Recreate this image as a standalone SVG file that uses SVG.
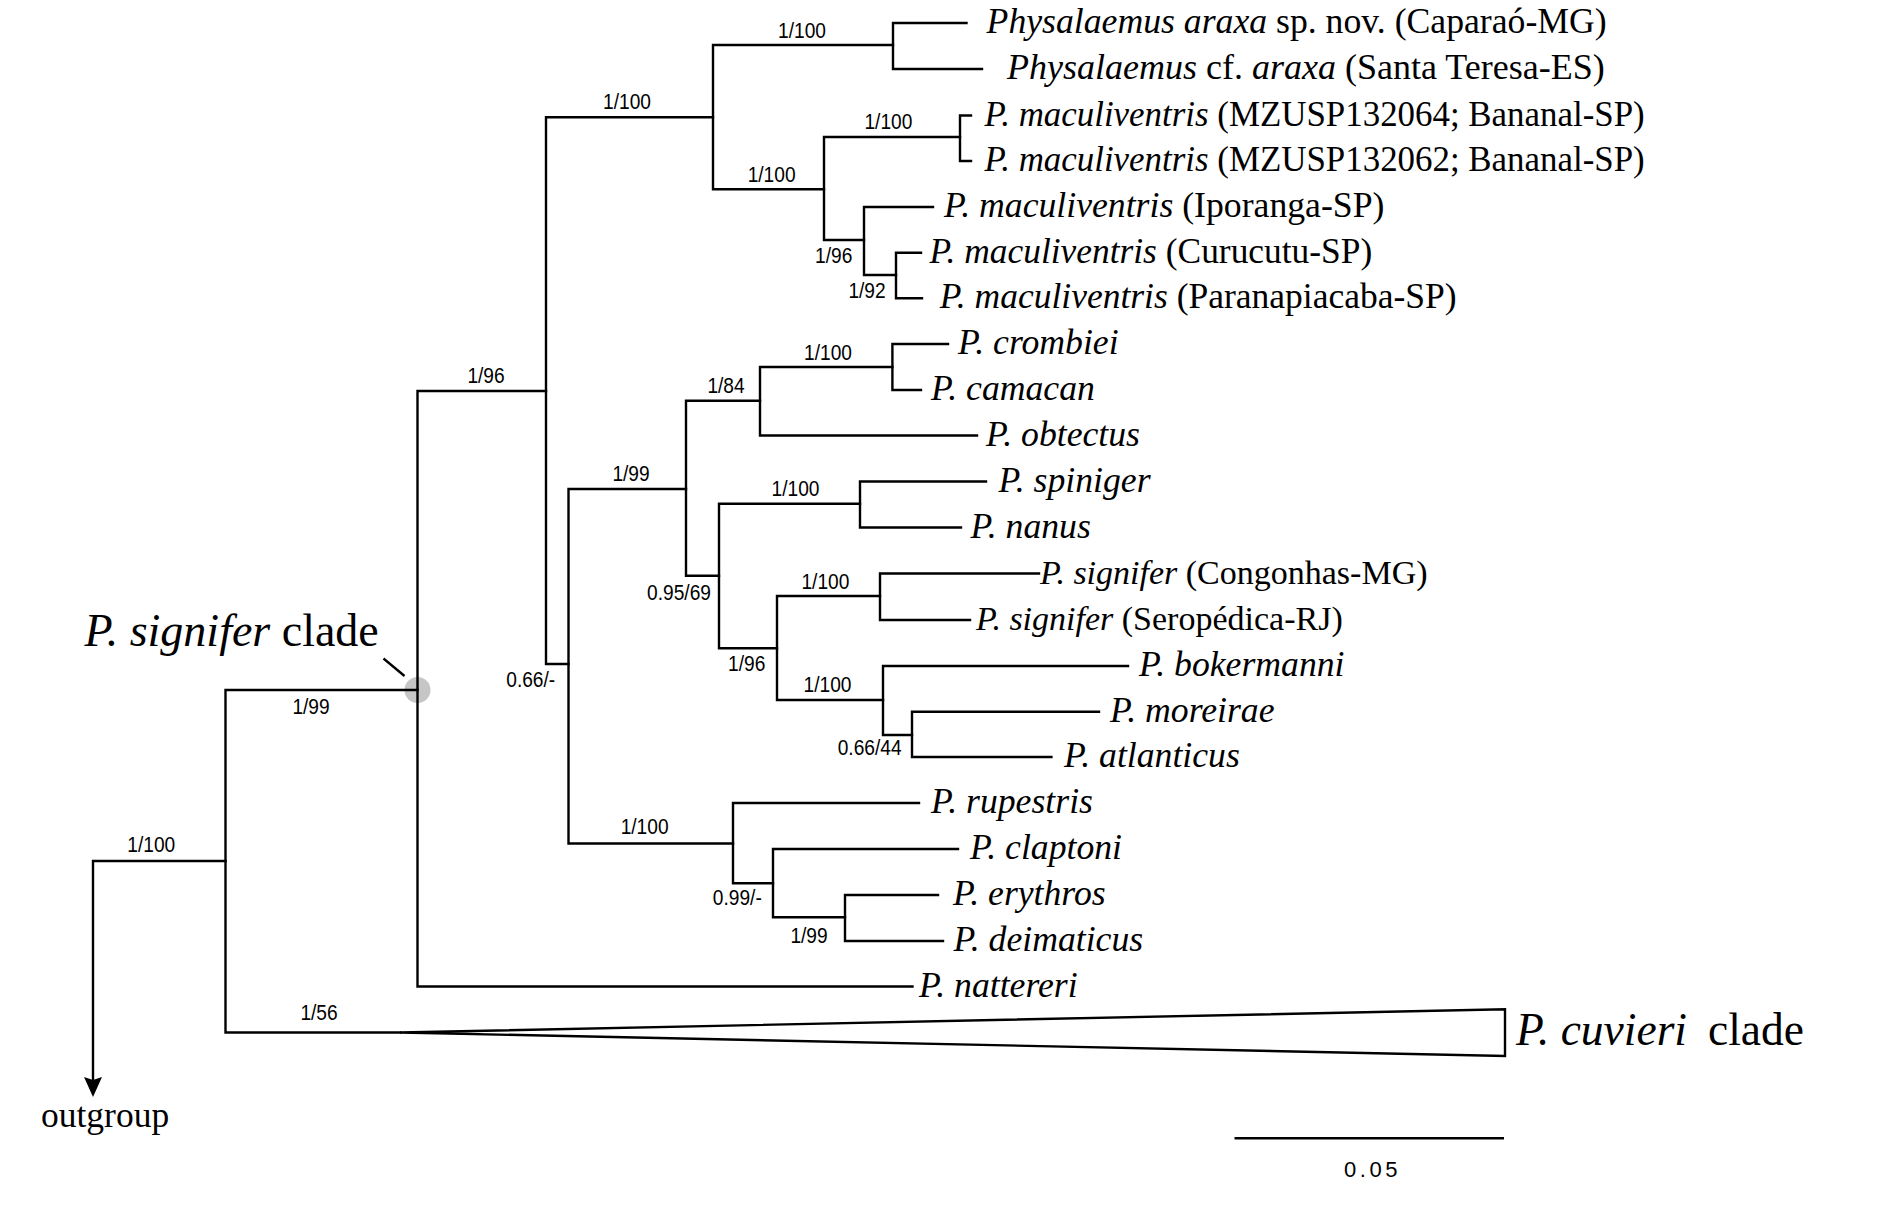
<svg xmlns="http://www.w3.org/2000/svg" width="1893" height="1220" viewBox="0 0 1893 1220">
<style>
.br{fill:none;stroke:#000;stroke-width:2.4;stroke-linejoin:miter;stroke-linecap:square}
.tip{font-family:"Liberation Serif","Times New Roman",serif;font-size:35.7px;fill:#000}
.it{font-style:italic}
.sup{font-family:"Liberation Sans",Arial,sans-serif;font-size:22px;fill:#000;text-anchor:middle}
.big{font-family:"Liberation Serif","Times New Roman",serif;font-size:45.5px;fill:#000}
</style>
<defs>
<marker id="arrow" viewBox="0 0 20 18" refX="2" refY="9" markerWidth="20" markerHeight="18" markerUnits="userSpaceOnUse" orient="auto">
<path d="M0,0 L20,9 L0,18 L3,9 Z" fill="#000"/>
</marker>
</defs>
<rect width="1893" height="1220" fill="#fff"/>

<g id="highlight">
<circle cx="417.5" cy="690" r="13" fill="#c6c6c6"/>
<line x1="383.5" y1="658.5" x2="404.5" y2="676" stroke="#000" stroke-width="2.3"/>
</g>

<g id="connectors">
<path class="br" d="M225.5,861 H93 V1079" marker-end="url(#arrow)"/>
<path class="br" d="M417.5,690 H225.5 V1032.5 H400"/>
<polygon points="400,1032.5 1505,1009.3 1505,1056" fill="#fff" stroke="#000" stroke-width="2.4" stroke-linejoin="miter"/>
<path class="br" d="M546,391 H417.5 V986.5 H912.5"/>
<path class="br" d="M713,117.3 H546 V664 H568.5"/>
<path class="br" d="M893,45 H713 V189.3 H824"/>
<path class="br" d="M966.5,23 H893 V69 H982"/>
<path class="br" d="M960,137 H824 V240 H864"/>
<path class="br" d="M971,115.5 H960 V161 H971"/>
<path class="br" d="M933,207 H864 V275 H896"/>
<path class="br" d="M921,252.7 H896 V298.3 H922"/>
<path class="br" d="M686,489 H568.5 V843.5 H733"/>
<path class="br" d="M760,400.7 H686 V575.7 H719"/>
<path class="br" d="M892.4,367 H760 V435.5 H977"/>
<path class="br" d="M948,344 H892.4 V390 H921"/>
<path class="br" d="M860,503.7 H719 V648.3 H777"/>
<path class="br" d="M986,481.5 H860 V527.5 H961"/>
<path class="br" d="M880,596 H777 V700 H883"/>
<path class="br" d="M1039,573.5 H880 V620 H970"/>
<path class="br" d="M1128,666 H883 V735 H912"/>
<path class="br" d="M1099,711.7 H912 V757 H1051.4"/>
<path class="br" d="M919,803 H733 V883.3 H773"/>
<path class="br" d="M958,849 H773 V917.3 H845"/>
<path class="br" d="M938,895 H845 V941 H943"/>
</g>

<g id="support-values">
<g id="n-root"><text class="sup" transform="translate(151.3,852) scale(0.87,1)">1/100</text></g>
<g id="n-signifer-stem"><text class="sup" transform="translate(311,714) scale(0.87,1)">1/99</text></g>
<g id="n-cuvieri-stem"><text class="sup" transform="translate(319,1020) scale(0.87,1)">1/56</text></g>
<g id="n-A"><text class="sup" transform="translate(486,383) scale(0.87,1)">1/96</text></g>
<g id="n-B"><text class="sup" transform="translate(627,109) scale(0.87,1)">1/100</text></g>
<g id="n-C"><text class="sup" transform="translate(802,37.5) scale(0.87,1)">1/100</text></g>
<g id="n-D"><text class="sup" transform="translate(771.6,181.7) scale(0.87,1)">1/100</text></g>
<g id="n-E"><text class="sup" transform="translate(888.4,129) scale(0.87,1)">1/100</text></g>
<g id="n-F"><text class="sup" transform="translate(833.7,263.3) scale(0.87,1)">1/96</text></g>
<g id="n-G"><text class="sup" transform="translate(867,297.7) scale(0.87,1)">1/92</text></g>
<g id="n-H"><text class="sup" transform="translate(530.7,687) scale(0.87,1)">0.66/-</text></g>
<g id="n-I"><text class="sup" transform="translate(631,481) scale(0.87,1)">1/99</text></g>
<g id="n-J"><text class="sup" transform="translate(726,392.7) scale(0.87,1)">1/84</text></g>
<g id="n-K"><text class="sup" transform="translate(828,360) scale(0.87,1)">1/100</text></g>
<g id="n-L"><text class="sup" transform="translate(679,600) scale(0.87,1)">0.95/69</text></g>
<g id="n-M"><text class="sup" transform="translate(795.5,496) scale(0.87,1)">1/100</text></g>
<g id="n-N"><text class="sup" transform="translate(746.7,670.7) scale(0.87,1)">1/96</text></g>
<g id="n-O"><text class="sup" transform="translate(825.4,589) scale(0.87,1)">1/100</text></g>
<g id="n-P"><text class="sup" transform="translate(827.5,692) scale(0.87,1)">1/100</text></g>
<g id="n-Q"><text class="sup" transform="translate(869.6,755) scale(0.87,1)">0.66/44</text></g>
<g id="n-T"><text class="sup" transform="translate(644.6,834) scale(0.87,1)">1/100</text></g>
<g id="n-U"><text class="sup" transform="translate(737.3,905) scale(0.87,1)">0.99/-</text></g>
<g id="n-V"><text class="sup" transform="translate(809,943.3) scale(0.87,1)">1/99</text></g>
</g>

<g id="tips">
<g id="t-araxa"><text class="tip" x="986.6" y="33"><tspan class="it">Physalaemus araxa</tspan> sp. nov. (Caparaó-MG)</text></g>
<g id="t-cf-araxa"><text class="tip" x="1007" y="79" style="font-size:36px"><tspan class="it">Physalaemus</tspan> cf. <tspan class="it">araxa</tspan> (Santa Teresa-ES)</text></g>
<g id="t-mac-064"><text class="tip" x="984.4" y="125.5" style="font-size:34.9px"><tspan class="it">P. maculiventris</tspan> (MZUSP132064; Bananal-SP)</text></g>
<g id="t-mac-062"><text class="tip" x="984.4" y="171" style="font-size:34.9px"><tspan class="it">P. maculiventris</tspan> (MZUSP132062; Bananal-SP)</text></g>
<g id="t-mac-ipo"><text class="tip" x="944" y="217"><tspan class="it">P. maculiventris</tspan> (Iporanga-SP)</text></g>
<g id="t-mac-cur"><text class="tip" x="929.5" y="262.7" style="font-size:35.4px"><tspan class="it">P. maculiventris</tspan> (Curucutu-SP)</text></g>
<g id="t-mac-par"><text class="tip" x="939.7" y="308.3" style="font-size:35.5px"><tspan class="it">P. maculiventris</tspan> (Paranapiacaba-SP)</text></g>
<g id="t-crombiei"><text class="tip it" x="958" y="354">P. crombiei</text></g>
<g id="t-camacan"><text class="tip it" x="931" y="400">P. camacan</text></g>
<g id="t-obtectus"><text class="tip it" x="986" y="445.5">P. obtectus</text></g>
<g id="t-spiniger"><text class="tip it" x="998.5" y="491.5">P. spiniger</text></g>
<g id="t-nanus"><text class="tip it" x="970.5" y="537.5">P. nanus</text></g>
<g id="t-sig-con"><text class="tip" x="1040" y="583.5" style="font-size:34px"><tspan class="it">P. signifer</tspan> (Congonhas-MG)</text></g>
<g id="t-sig-ser"><text class="tip" x="976" y="630" style="font-size:34px"><tspan class="it">P. signifer</tspan> (Seropédica-RJ)</text></g>
<g id="t-bokermanni"><text class="tip it" x="1139" y="676">P. bokermanni</text></g>
<g id="t-moreirae"><text class="tip it" x="1110" y="721.7">P. moreirae</text></g>
<g id="t-atlanticus"><text class="tip it" x="1064" y="767">P. atlanticus</text></g>
<g id="t-rupestris"><text class="tip it" x="931" y="813">P. rupestris</text></g>
<g id="t-claptoni"><text class="tip it" x="970" y="859">P. claptoni</text></g>
<g id="t-erythros"><text class="tip it" x="953" y="905">P. erythros</text></g>
<g id="t-deimaticus"><text class="tip it" x="953.5" y="951">P. deimaticus</text></g>
<g id="t-nattereri"><text class="tip it" x="919" y="996.5">P. nattereri</text></g>
<g id="t-cuvieri"><text class="big" x="1516" y="1045"><tspan class="it">P. cuvieri</tspan><tspan x="1708">clade</tspan></text></g>
<g id="t-outgroup"><text class="tip" x="41" y="1127" style="font-size:35.5px">outgroup</text></g>
</g>

<g id="clade-label">
<text class="big" x="84.5" y="646" style="font-size:46px"><tspan class="it">P. signifer</tspan> clade</text>
</g>

<g id="scale-bar">
<line x1="1234.5" y1="1138.3" x2="1504" y2="1138.3" stroke="#000" stroke-width="2.4"/>
<text class="sup" x="1372.5" y="1177" style="letter-spacing:3.5px">0.05</text>
</g>
</svg>
